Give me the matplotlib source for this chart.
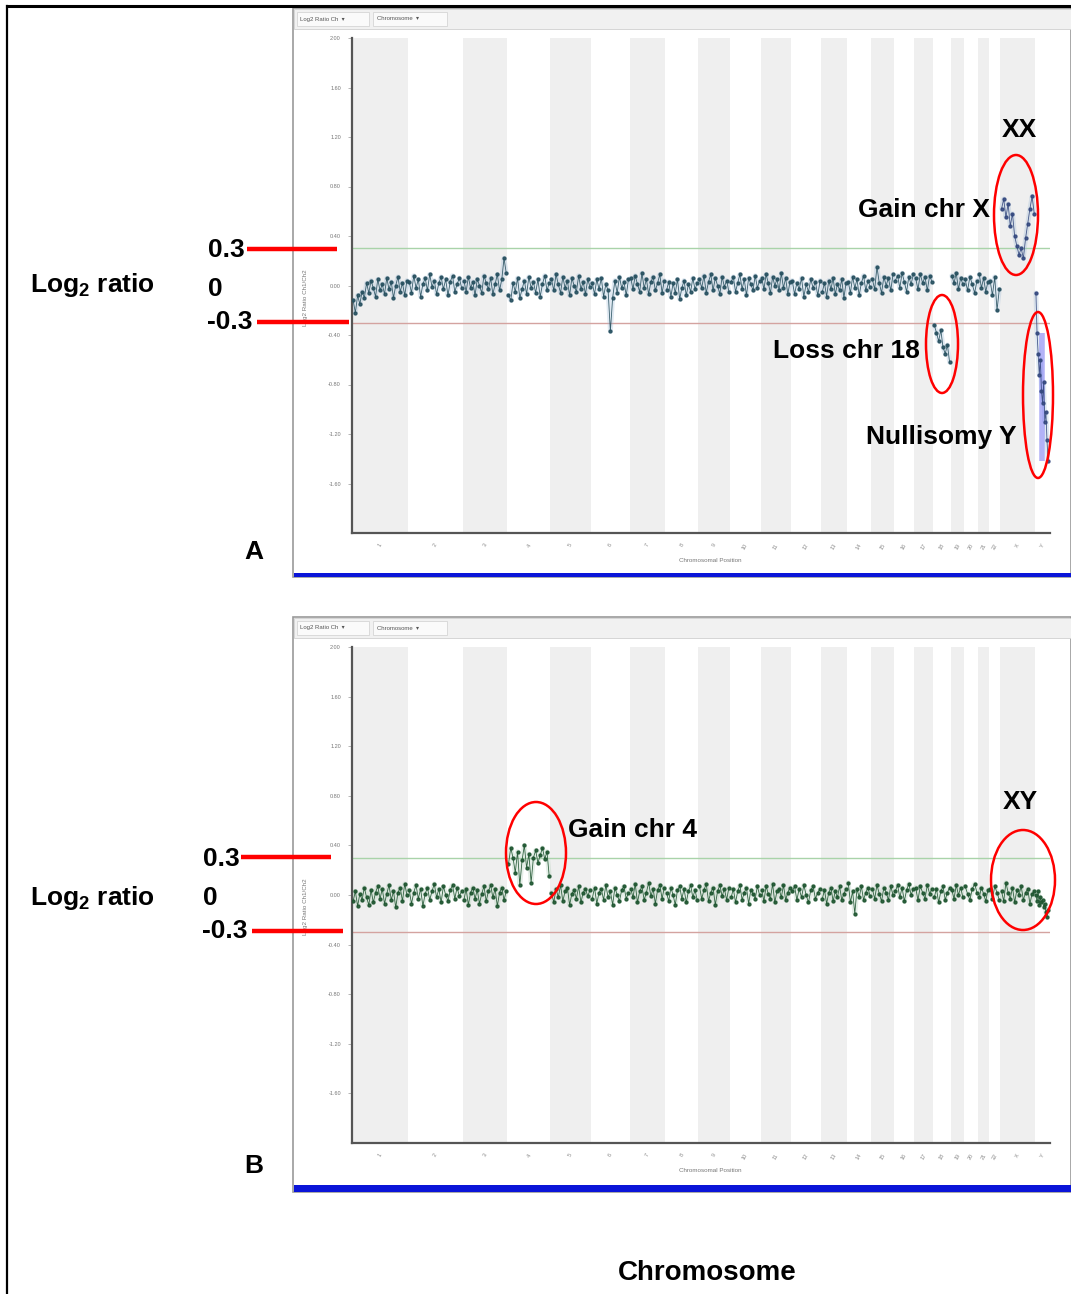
import matplotlib
matplotlib.use("Agg")
import matplotlib.pyplot as plt
from matplotlib.patches import Ellipse, Rectangle
import numpy as np

W, H = 1071, 1294

plt.rcParams["font.family"] = ["Liberation Sans", "DejaVu Sans"]
plt.rcParams["mathtext.fontset"] = "custom"
plt.rcParams["mathtext.rm"] = "Liberation Sans:bold"
plt.rcParams["mathtext.it"] = "Liberation Sans:bold"

# chromosome order and length (Mb)
chrom_names = [str(i) for i in range(1, 23)] + ["X", "Y"]
chrom_len_mb = [249, 243, 198, 191, 181, 171, 159, 146, 141, 136, 135, 134,
                115, 107, 102, 90, 83, 78, 59, 63, 48, 51, 155, 59]

y_ticks = [2.0, 1.6, 1.2, 0.8, 0.4, 0.0, -0.4, -0.8, -1.2, -1.6]
y_tick_labels = ["2.00", "1.60", "1.20", "0.80", "0.40", "0.00",
                 "-0.40", "-0.80", "-1.20", "-1.60"]
gain_cutoff = 0.3
loss_cutoff = -0.3

# log2 ratios along each chromosome, sample A (XX, +X, -18, no Y)
ratios_a = [
    [-0.12, -0.22, -0.08, -0.15, -0.05, -0.10, 0.02, -0.06, 0.04, -0.02, -0.09, 0.05, -0.04,
     0.01, -0.07, 0.06, -0.03, 0.03, -0.10, 0.00, 0.07, -0.05, 0.02, -0.08, 0.04],
    [0.03, -0.06, 0.08, -0.02, 0.05, -0.09, 0.01, 0.06, -0.04, 0.09, -0.01, 0.04, -0.07,
     0.02, 0.07, -0.03, 0.05, -0.08, 0.03, 0.08, -0.05, 0.01, 0.06, -0.02],
    [0.04, -0.05, 0.07, -0.02, 0.03, -0.08, 0.05, 0.00, -0.06, 0.08, 0.02, -0.03, 0.06,
     -0.07, 0.01, 0.09, -0.04, 0.05, 0.22, 0.10],
    [-0.08, -0.12, 0.02, -0.05, 0.06, -0.10, -0.03, 0.04, -0.07, 0.07, -0.02, 0.03, -0.06,
     0.05, -0.09, 0.01, 0.08, -0.04, 0.02],
    [0.05, -0.04, 0.09, 0.01, -0.06, 0.07, -0.02, 0.04, -0.08, 0.06, 0.00, -0.05, 0.08,
     -0.03, 0.03, -0.07, 0.05, -0.01],
    [0.02, -0.07, 0.05, -0.03, 0.06, -0.09, 0.01, -0.04, -0.37, -0.10, 0.04, -0.06, 0.07,
     -0.02, 0.03, -0.08, 0.05],
    [0.06, -0.03, 0.08, 0.01, -0.05, 0.10, -0.02, 0.05, -0.07, 0.03, 0.07, -0.04, 0.02,
     0.09, -0.06, 0.04],
    [-0.04, 0.03, -0.09, 0.02, -0.06, 0.05, -0.11, -0.02, 0.04, -0.08, 0.01, -0.05, 0.06,
     -0.03, 0.02],
    [0.05, -0.02, 0.08, -0.06, 0.03, 0.09, -0.04, 0.06, 0.00, -0.07, 0.07, -0.01, 0.04, -0.05],
    [0.03, 0.07, -0.05, 0.02, 0.09, -0.03, 0.05, -0.08, 0.06, 0.01, -0.04, 0.08, -0.02, 0.04],
    [0.06, -0.03, 0.09, 0.02, -0.06, 0.07, 0.00, 0.05, -0.04, 0.10, -0.02, 0.06, -0.07, 0.03],
    [0.04, -0.07, 0.02, -0.03, 0.06, -0.09, 0.01, -0.05, 0.05, -0.02, 0.03, -0.08, 0.04],
    [-0.05, 0.02, -0.09, 0.04, -0.03, 0.06, -0.07, 0.01, -0.04, 0.05, -0.10, 0.02],
    [0.03, -0.06, 0.07, -0.02, 0.05, -0.08, 0.02, 0.08, -0.04, 0.04, -0.01],
    [0.05, -0.03, 0.15, 0.02, -0.06, 0.07, 0.00, 0.06, -0.04, 0.09],
    [0.04, 0.08, -0.02, 0.10, 0.03, -0.05, 0.07, 0.01, 0.09],
    [0.06, -0.03, 0.09, 0.02, 0.07, -0.04, 0.08, 0.03],
    [-0.32, -0.38, -0.45, -0.36, -0.50, -0.55, -0.48, -0.62],
    [0.08, 0.02, 0.10, -0.03, 0.06, 0.01],
    [0.05, -0.04, 0.07, 0.01, -0.06, 0.04],
    [0.09, -0.02, 0.06, -0.05, 0.03],
    [0.04, -0.08, 0.07, -0.20, -0.03],
    [0.62, 0.70, 0.55, 0.66, 0.48, 0.58, 0.40, 0.32, 0.25, 0.30, 0.22, 0.38, 0.50, 0.62,
     0.72, 0.58],
    [-0.06, -0.38, -0.55, -0.72, -0.60, -0.85, -0.95, -0.78, -1.10, -1.02, -1.25, -1.42],
]

# sample B (XY, +4)
ratios_b = [
    [-0.05, 0.03, -0.09, 0.01, -0.04, 0.06, -0.02, -0.08, 0.04, -0.06, 0.02, 0.07, -0.03,
     0.05, -0.07, 0.01, 0.08, -0.04, 0.03, -0.10, 0.02, 0.06, -0.05, 0.09, 0.00],
    [0.04, -0.07, 0.02, 0.08, -0.03, 0.05, -0.09, 0.01, 0.06, -0.04, 0.03, 0.09, -0.02,
     0.05, -0.06, 0.07, 0.00, -0.05, 0.04, 0.08, -0.03, 0.06, -0.01, 0.03],
    [-0.04, 0.05, -0.08, 0.02, 0.06, -0.03, 0.04, -0.07, 0.01, 0.07, -0.05, 0.03, 0.08,
     -0.02, 0.05, -0.09, 0.02, 0.06, -0.04, 0.03],
    [0.25, 0.38, 0.30, 0.18, 0.35, 0.08, 0.28, 0.40, 0.22, 0.33, 0.10, 0.30, 0.36, 0.26,
     0.32, 0.38, 0.29, 0.35, 0.15],
    [0.02, -0.06, 0.05, -0.02, 0.08, -0.05, 0.03, 0.06, -0.08, 0.01, 0.04, -0.03, 0.07,
     -0.06, 0.02, 0.05, -0.01, 0.04],
    [-0.03, 0.06, -0.07, 0.02, 0.05, -0.04, 0.08, -0.02, 0.03, -0.08, 0.06, 0.00, -0.05,
     0.04, 0.07, -0.03, 0.02],
    [0.05, -0.02, 0.09, -0.06, 0.03, 0.07, -0.04, 0.02, 0.10, -0.01, 0.05, -0.07, 0.04,
     0.08, -0.03, 0.06],
    [0.02, -0.05, 0.06, 0.00, -0.08, 0.04, 0.07, -0.03, 0.05, -0.06, 0.03, 0.08, -0.02,
     0.04, -0.04],
    [0.07, -0.03, 0.04, 0.09, -0.05, 0.02, 0.06, -0.08, 0.03, 0.08, -0.01, 0.05, -0.04, 0.06],
    [-0.02, 0.05, -0.06, 0.03, 0.08, -0.04, 0.02, 0.06, -0.07, 0.04, 0.01, -0.03, 0.07, 0.00],
    [0.04, -0.05, 0.07, 0.01, -0.03, 0.09, -0.06, 0.03, 0.05, -0.02, 0.08, -0.04, 0.02, 0.06],
    [0.03, 0.07, -0.04, 0.05, -0.02, 0.08, 0.00, -0.06, 0.04, 0.07, -0.03, 0.02, 0.05],
    [-0.03, 0.04, -0.07, 0.02, 0.06, -0.05, 0.03, -0.02, 0.07, -0.04, 0.01, 0.05],
    [0.10, -0.06, 0.03, -0.15, 0.05, -0.02, 0.07, -0.04, 0.02, 0.06, -0.01],
    [0.05, -0.03, 0.08, 0.01, -0.05, 0.06, 0.02, -0.04, 0.07, 0.00],
    [0.03, 0.08, -0.02, 0.06, -0.05, 0.04, 0.09, 0.00, 0.05],
    [0.06, -0.04, 0.07, 0.02, -0.03, 0.08, 0.01, 0.05],
    [-0.02, 0.05, -0.06, 0.03, 0.07, -0.04, 0.02, 0.06],
    [0.04, -0.03, 0.08, 0.00, 0.06, -0.02],
    [0.07, 0.01, -0.04, 0.05, 0.09, 0.02],
    [-0.02, 0.06, 0.01, -0.05, 0.04],
    [0.05, -0.03, 0.07, 0.02, -0.04],
    [0.03, -0.05, 0.10, 0.02, -0.03, 0.06, -0.06, 0.04, 0.00, 0.07, -0.04, 0.02, 0.05,
     -0.07, 0.01, 0.03],
    [0.00, -0.05, 0.03, -0.08, -0.02, -0.06, -0.04, -0.10, -0.07, -0.14, -0.18, -0.12],
]


def frac(x0, y0, x1, y1):
    return [x0 / W, 1 - y1 / H, (x1 - x0) / W, (y1 - y0) / H]


fig = plt.figure(figsize=(W / 100, H / 100), dpi=100)

bg = fig.add_axes([0, 0, 1, 1], zorder=0)
bg.set_xlim(0, W)
bg.set_ylim(H, 0)
bg.axis("off")

fg = fig.add_axes([0, 0, 1, 1], zorder=10)
fg.set_xlim(0, W)
fg.set_ylim(H, 0)
fg.axis("off")

# outer frame lines
bg.plot([7, 7], [6, H], color="black", lw=1.6)
bg.plot([7, W], [6, 6], color="black", lw=2.2)

starts = np.concatenate([[0], np.cumsum(chrom_len_mb)[:-1]])
total_mb = float(np.sum(chrom_len_mb))


def draw_panel(frame_top, frame_bot, plot_top, plot_bot, bar_h, ratios, dot_col, halo_col, xy_col):
    # application window
    bg.add_patch(Rectangle((293, frame_top), W - 293, frame_bot - frame_top,
                           facecolor="white", edgecolor="#9a9a9a", lw=1.2))
    bg.add_patch(Rectangle((294, frame_top + 1), W - 294, 20,
                           facecolor="#f1f1f1", edgecolor="#d0d0d0", lw=0.6))
    bg.add_patch(Rectangle((297, frame_top + 4), 72, 14, facecolor="#fafafa",
                           edgecolor="#cfcfcf", lw=0.5))
    bg.add_patch(Rectangle((373, frame_top + 4), 74, 14, facecolor="#fafafa",
                           edgecolor="#cfcfcf", lw=0.5))
    bg.text(300, frame_top + 11, "Log2 Ratio Ch  \u25be", fontsize=4.3, color="#555555", va="center")
    bg.text(377, frame_top + 11, "Chromosome  \u25be", fontsize=4.3, color="#555555", va="center")
    bg.add_patch(Rectangle((294, frame_bot - bar_h), W - 294, bar_h,
                           facecolor="#0a14d8", edgecolor="none"))
    bg.text(710, plot_bot + 28, "Chromosomal Position", fontsize=4.5, color="#777777",
            ha="center", va="center")
    bg.text(306, (plot_top + plot_bot) / 2 + 12, "Log2 Ratio Ch1/Ch2", fontsize=4.5,
            color="#777777", rotation=90, ha="center", va="center")

    ax = fig.add_axes(frac(352, plot_top, 1050, plot_bot), zorder=2)
    ax.set_xlim(0, total_mb + 6)
    ax.set_ylim(-2.0, 2.0)
    ax.patch.set_alpha(0)

    for i, (s, ln) in enumerate(zip(starts, chrom_len_mb)):
        if i % 2 == 0:
            ax.axvspan(s, s + ln, color="#efefef", lw=0, zorder=0)

    ax.axhline(gain_cutoff, color="#a9d3a9", lw=1.0, zorder=1)
    ax.axhline(loss_cutoff, color="#d4a3a0", lw=1.0, zorder=1)

    for i, (s, ln, vals) in enumerate(zip(starts, chrom_len_mb, ratios)):
        vals = np.asarray(vals)
        xs = s + (np.arange(len(vals)) + 0.5) / len(vals) * ln
        col = xy_col if i >= 22 else dot_col
        ax.plot(xs, vals, color=halo_col, lw=3.5, alpha=0.3, zorder=2, solid_capstyle="round")
        ax.plot(xs, vals, color=col, lw=0.6, marker="o", ms=2.1, mec=col, mfc=col,
                alpha=0.9, zorder=3)

    for side in ["top", "right"]:
        ax.spines[side].set_visible(False)
    for side in ["left", "bottom"]:
        ax.spines[side].set_color("#555555")
        ax.spines[side].set_linewidth(1.6)

    ax.set_yticks(y_ticks)
    ax.set_yticklabels(y_tick_labels)
    ax.tick_params(axis="y", labelsize=4.0, labelcolor="#777777", color="#aaaaaa",
                   length=3, width=0.6, pad=5)
    ax.set_xticks(starts + np.asarray(chrom_len_mb) / 2)
    ax.set_xticklabels(chrom_names, rotation=60)
    ax.tick_params(axis="x", labelsize=4.0, labelcolor="#888888", length=0, pad=7)
    return ax


ax_a = draw_panel(8, 577, 38, 533, 4, ratios_a, "#27505f", "#9ab8d6", "#34487e")
ax_b = draw_panel(617, 1192, 647, 1143, 7, ratios_b, "#1e5530", "#a8c8b0", "#1e5530")

# blue spread of the Y probes in sample A
y_idx = chrom_names.index("Y")
y_mid = starts[y_idx] + chrom_len_mb[y_idx] / 2
ax_a.vlines(y_mid, min(ratios_a[y_idx]), sorted(ratios_a[y_idx])[-2],
            color="#7f7ff2", lw=4, alpha=0.6, zorder=2)

bold = dict(fontsize=19, fontweight="bold", color="black", va="center")

# left-hand scale annotations
for lab_y, top_y, zero_y, bot_y, lines in [
    (285, 250, 289, 322, [(247, 337, 249), (257, 349, 322)]),
    (898, 859, 898, 931, [(241, 331, 857), (252, 343, 931)]),
]:
    off = 0 if lab_y == 285 else -5
    fg.text(30, lab_y, r"Log$_2$ ratio", **bold)
    fg.text(208 + off, top_y, "0.3", **bold)
    fg.text(208 + off, zero_y, "0", **bold)
    fg.text(207 + off, bot_y, "-0.3", **bold)
    for x0, x1, yy in lines:
        fg.plot([x0, x1], [yy, yy], color="#ff0000", lw=3.2, solid_capstyle="butt")

fg.text(254, 552, "A", ha="center", **bold)
fg.text(254, 1166, "B", ha="center", **bold)
fg.text(707, 1273, "Chromosome", ha="center", fontsize=20, fontweight="bold", va="center")

# aberration call-outs
fg.text(1019, 130, "XX", ha="center", **bold)
fg.text(990, 210, "Gain chr X", ha="right", **bold)
fg.text(920, 351, "Loss chr 18", ha="right", **bold)
fg.text(1016, 437, "Nullisomy Y", ha="right", **bold)
fg.text(568, 830, "Gain chr 4", ha="left", **bold)
fg.text(1020, 802, "XY", ha="center", **bold)

for cx, cy, w, h in [(1016, 215, 44, 120), (942, 344, 32, 98), (1038, 395, 30, 166),
                     (536, 853, 60, 102), (1023, 880, 64, 100)]:
    fg.add_patch(Ellipse((cx, cy), w, h, fill=False, edgecolor="#ff0000", lw=1.8))

fig.savefig("out.png", dpi=100)
